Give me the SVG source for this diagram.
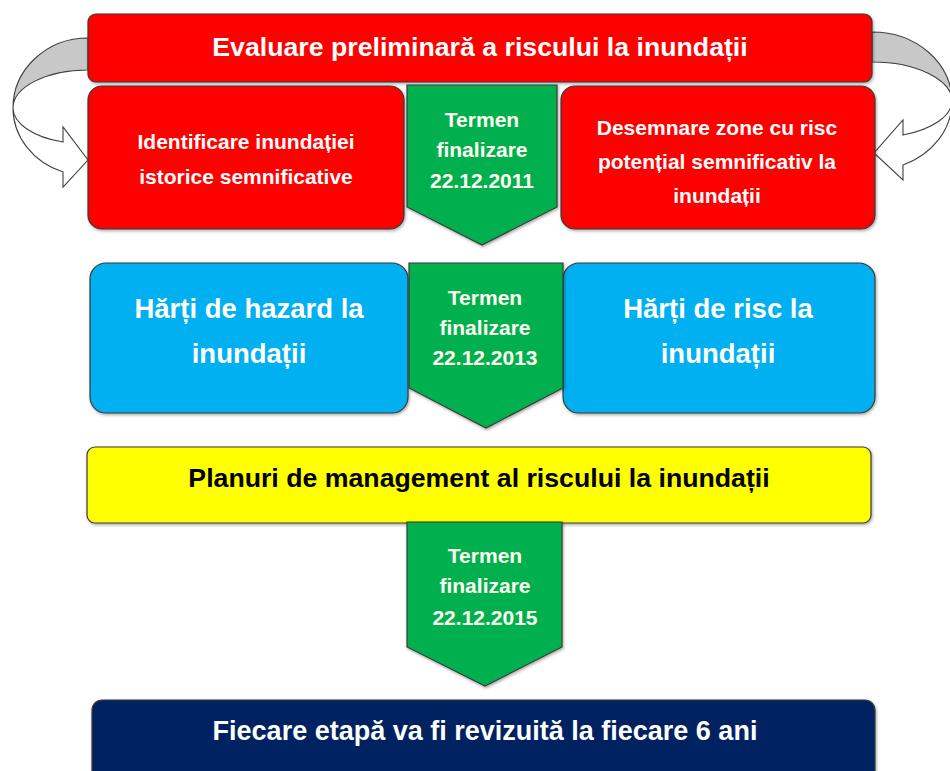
<svg xmlns="http://www.w3.org/2000/svg" width="950" height="771" viewBox="0 0 950 771">
<defs>
<filter id="sh" x="-5%" y="-10%" width="110%" height="125%">
<feDropShadow dx="1" dy="1.5" stdDeviation="1.5" flood-color="#000" flood-opacity="0.35"/>
</filter>
</defs>
<style>
.box{stroke:#3a3a3a;stroke-width:1.2;filter:url(#sh)}
.red{fill:#ff0000}
.green{fill:#00b050}
.blue{fill:#00b0f0}
.yellow{fill:#ffff00}
.navy{fill:#002060}
.t{font-family:"Liberation Sans",Arial,sans-serif;font-weight:bold;text-anchor:middle}
.w{fill:#ffffff}
.c{fill:#fffff0}
.k{fill:#000000}
.arr{stroke:#404040;stroke-width:1.1}
</style>
<rect width="950" height="771" fill="#ffffff"/>

<g id="connectors">
<path class="arr" fill="#c8c8c8" d="M88,38 A75,70 0 0 0 13,108 A75,38 0 0 1 88,70 Z"/>
<path class="arr" fill="#ffffff" d="M13,108 A75,68 0 0 0 63,172 L63,187 L88,160 L63,127 L63,142 A73,36 0 0 1 13,108 Z"/>
<path class="arr" fill="#c8c8c8" d="M872,32 A80,69 0 0 1 952,101 A80,39 0 0 0 872,62 Z"/>
<path class="arr" fill="#ffffff" d="M952,101 A80,69 0 0 1 903,165 L903,180 L874,153 L903,120 L903,135 A78,37 0 0 0 952,101 Z"/>
</g>

<g id="evaluare">
<rect class="box red" x="88" y="14" width="784" height="68" rx="8"/>
<text class="t w" x="480" y="56" font-size="26.7">Evaluare preliminară a riscului la inundații</text>
</g>

<g id="identificare">
<rect class="box red" x="88" y="86" width="316" height="143" rx="14"/>
<text class="t w" x="246" y="149" font-size="21">Identificare inundației</text>
<text class="t w" x="246" y="184" font-size="21">istorice semnificative</text>
</g>

<g id="desemnare">
<rect class="box red" x="561" y="86" width="314" height="143" rx="14"/>
<text class="t w" x="717" y="135" font-size="21">Desemnare zone cu risc</text>
<text class="t w" x="717" y="169" font-size="21">potențial semnificativ la</text>
<text class="t w" x="717" y="203" font-size="21">inundații</text>
</g>

<g id="termen2011">
<path class="box green" d="M407,85 L557,85 L557,207 L482,245 L407,207 Z"/>
<text class="t c" x="482" y="127" font-size="21">Termen</text>
<text class="t c" x="482" y="157" font-size="21">finalizare</text>
<text class="t c" x="482" y="188" font-size="21">22.12.2011</text>
</g>

<g id="harti-hazard">
<rect class="box blue" x="90" y="263" width="318" height="150" rx="16"/>
<text class="t w" x="249" y="318" font-size="27.5">Hărți de hazard la</text>
<text class="t w" x="249" y="363" font-size="27.5">inundații</text>
</g>

<g id="harti-risc">
<rect class="box blue" x="563" y="263" width="312" height="150" rx="16"/>
<text class="t w" x="718" y="318" font-size="27.5">Hărți de risc la</text>
<text class="t w" x="718" y="363" font-size="27.5">inundații</text>
</g>

<g id="termen2013">
<path class="box green" d="M409,263 L563,263 L563,388 L486,428 L409,388 Z"/>
<text class="t c" x="485" y="305" font-size="21">Termen</text>
<text class="t c" x="485" y="335" font-size="21">finalizare</text>
<text class="t c" x="485" y="365" font-size="21">22.12.2013</text>
</g>

<g id="planuri">
<rect class="box yellow" x="87" y="447" width="784" height="76" rx="8"/>
<text class="t k" x="479" y="487" font-size="26.7">Planuri de management al riscului la inundații</text>
</g>

<g id="termen2015">
<path class="box green" d="M407,522 L562,522 L562,647 L485,686 L407,647 Z"/>
<text class="t c" x="485" y="563" font-size="21">Termen</text>
<text class="t c" x="485" y="593" font-size="21">finalizare</text>
<text class="t c" x="485" y="625" font-size="21">22.12.2015</text>
</g>

<g id="revizuire">
<rect class="box navy" x="92" y="700" width="783" height="95" rx="10"/>
<text class="t w" x="485" y="740" font-size="27">Fiecare etapă va fi revizuită la fiecare 6 ani</text>
</g>
</svg>
